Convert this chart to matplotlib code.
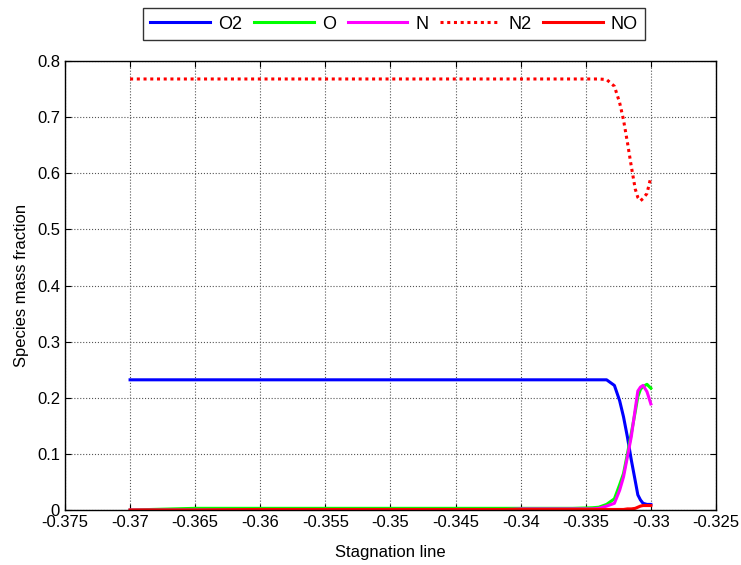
import matplotlib
matplotlib.use("Agg")
import matplotlib.pyplot as plt

plt.rcParams['font.family'] = ['Liberation Sans', 'DejaVu Sans']

# stagnation line coordinate
x = [-0.370, -0.365, -0.360, -0.350, -0.342, -0.340, -0.336, -0.3345, -0.3340,
     -0.3334, -0.3328, -0.3324, -0.3321, -0.3318, -0.3315, -0.3312, -0.3310,
     -0.3308, -0.3306, -0.3303, -0.3300]

o2 = [0.232, 0.232, 0.232, 0.232, 0.232, 0.232, 0.232, 0.232, 0.232,
      0.232, 0.222, 0.195, 0.166, 0.130, 0.089, 0.052, 0.027,
      0.018, 0.012, 0.010, 0.010]
o = [0.000, 0.003, 0.003, 0.003, 0.003, 0.003, 0.003, 0.004, 0.005,
     0.010, 0.020, 0.045, 0.065, 0.100, 0.137, 0.175, 0.202,
     0.215, 0.220, 0.224, 0.217]
n = [0.000, 0.000, 0.000, 0.000, 0.000, 0.002, 0.002, 0.002, 0.003,
     0.007, 0.012, 0.035, 0.059, 0.095, 0.131, 0.180, 0.212,
     0.219, 0.222, 0.211, 0.189]
n2 = [0.768, 0.768, 0.768, 0.768, 0.768, 0.768, 0.768, 0.768, 0.768,
      0.767, 0.755, 0.726, 0.695, 0.655, 0.612, 0.572, 0.557,
      0.551, 0.555, 0.564, 0.593]
no = [0.000, 0.000, 0.001, 0.001, 0.001, 0.001, 0.001, 0.001, 0.001,
      0.001, 0.001, 0.001, 0.001, 0.002, 0.002, 0.003, 0.005,
      0.007, 0.008, 0.008, 0.008]

xticks = [-0.375, -0.37, -0.365, -0.36, -0.355, -0.35, -0.345, -0.34,
          -0.335, -0.33, -0.325]
xticklabels = ['-0.375', '-0.37', '-0.365', '-0.36', '-0.355', '-0.35',
               '-0.345', '-0.34', '-0.335', '-0.33', '-0.325']
yticks = [0, 0.1, 0.2, 0.3, 0.4, 0.5, 0.6, 0.7, 0.8]
yticklabels = ['0', '0.1', '0.2', '0.3', '0.4', '0.5', '0.6', '0.7', '0.8']

fig = plt.figure(figsize=(7.41, 5.65), dpi=100)
ax = fig.add_axes([0.0877, 0.0973, 0.8785, 0.7947])

ax.plot(x, o2, color=(0, 0, 1), lw=2.2, label='O2')
ax.plot(x, o, color=(0, 1, 0), lw=2.2, label='O')
ax.plot(x, n, color=(1, 0, 1), lw=2.2, label='N')
ax.plot(x, n2, color=(1, 0, 0), lw=2.2, ls=(0, (1, 1.2)), label='N2')
ax.plot(x, no, color=(1, 0, 0), lw=2.2, label='NO')

ax.set_xlim(-0.375, -0.325)
ax.set_ylim(0, 0.8)
ax.set_xticks(xticks)
ax.set_xticklabels(xticklabels)
ax.set_yticks(yticks)
ax.set_yticklabels(yticklabels)
ax.tick_params(direction='in', top=True, right=True, labelsize=12, length=4)
ax.grid(True, color='#555555', ls=':', lw=0.8)
for s in ax.spines.values():
    s.set_linewidth(1.0)

ax.set_xlabel('Stagnation line', fontsize=12, labelpad=11)
ax.set_ylabel('Species mass fraction', fontsize=12, labelpad=6)

leg = fig.legend(loc='center', bbox_to_anchor=(0.532, 0.9575), ncol=5,
                 fontsize=13, handlelength=3.3, columnspacing=0.66,
                 handletextpad=0.45, frameon=True, fancybox=False,
                 edgecolor='black', borderpad=0.4, borderaxespad=0)
leg.get_frame().set_linewidth(1.0)

fig.savefig('out.png', dpi=100)
